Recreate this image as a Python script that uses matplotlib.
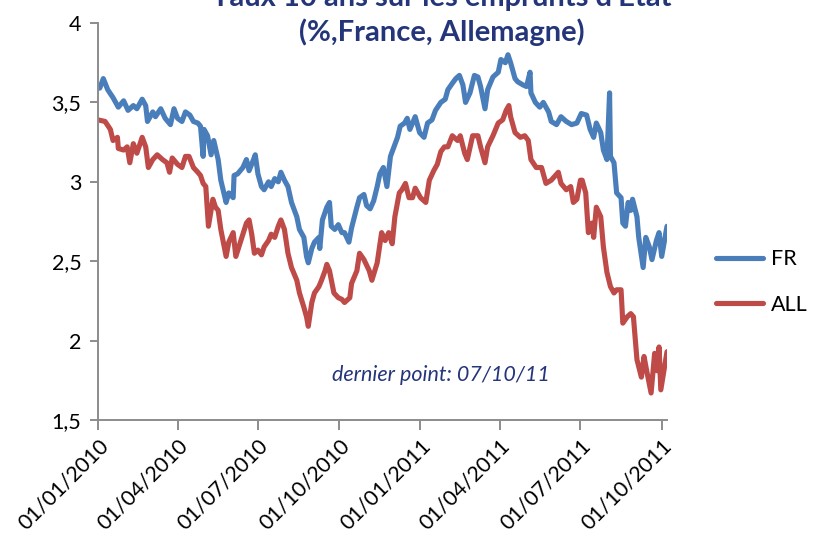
import matplotlib
matplotlib.use("Agg")
import matplotlib.pyplot as plt
import matplotlib.dates as mdates
import numpy as np

# ---------------- data ----------------
start_date = "2010-01-01"
end_date = "2011-10-07"

fr_days = [0, 2, 6, 11, 17, 23, 29, 34, 40, 44, 50, 54, 56, 62, 65, 71, 76, 82, 86, 90,
           95, 99, 104, 108, 113, 116, 119, 120, 124, 128, 131, 136, 139, 145, 148, 153, 154,
           158, 164, 168, 171, 176, 178, 181, 185, 188, 193, 196, 200, 204, 207, 211, 215,
           219, 225, 228, 233, 236, 238, 242, 245, 250, 251, 254, 259, 262, 264, 268, 272,
           276, 279, 284, 287, 293, 296, 301, 304, 308, 312, 316, 319, 323, 327, 331, 335,
           339, 342, 347, 350, 353, 359, 364, 369, 373, 378, 382, 388, 393, 396, 401, 405,
           409, 413, 416, 421, 426, 430, 433, 438, 441, 447, 453, 456, 461, 464, 467, 472,
           475, 481, 485, 489, 490, 495, 500, 504, 510, 513, 519, 524, 530, 536, 542, 547,
           553, 557, 561, 564, 569, 572, 576, 579, 580, 584, 587, 592, 594, 597, 600, 603,
           605, 610, 612, 617, 620, 624, 627, 632, 635, 638, 644]
fr_values = [3.59, 3.59, 3.65, 3.58, 3.53, 3.47, 3.51, 3.45, 3.48, 3.46, 3.52, 3.48, 3.38,
             3.44, 3.41, 3.46, 3.40, 3.36, 3.46, 3.40, 3.38, 3.44, 3.42, 3.38, 3.37, 3.35,
             3.16, 3.33, 3.29, 3.17, 3.26, 3.14, 3.01, 2.87, 2.93, 2.90, 3.04, 3.05, 3.09,
             3.14, 3.07, 3.14, 3.17, 3.05, 2.97, 2.95, 3.00, 2.97, 3.02, 3.00, 3.06, 3.01,
             2.97, 2.87, 2.78, 2.70, 2.65, 2.53, 2.49, 2.58, 2.62, 2.65, 2.58, 2.76, 2.84,
             2.87, 2.72, 2.70, 2.73, 2.68, 2.68, 2.62, 2.71, 2.84, 2.90, 2.92, 2.85, 2.83,
             2.88, 2.97, 3.05, 3.09, 2.97, 3.16, 3.22, 3.28, 3.35, 3.37, 3.40, 3.33, 3.41,
             3.31, 3.28, 3.37, 3.39, 3.45, 3.50, 3.52, 3.58, 3.62, 3.65, 3.67, 3.61, 3.50,
             3.56, 3.67, 3.66, 3.60, 3.46, 3.58, 3.66, 3.69, 3.77, 3.75, 3.80, 3.75, 3.65,
             3.63, 3.61, 3.60, 3.69, 3.56, 3.50, 3.47, 3.50, 3.44, 3.38, 3.36, 3.41, 3.38,
             3.36, 3.37, 3.43, 3.42, 3.33, 3.28, 3.37, 3.31, 3.20, 3.14, 3.56, 3.16, 3.12,
             2.93, 2.90, 2.74, 2.72, 2.87, 2.82, 2.89, 2.78, 2.65, 2.46, 2.65, 2.59, 2.51,
             2.63, 2.68, 2.53, 2.72]

all_days = [0, 8, 14, 17, 22, 23, 29, 33, 36, 40, 44, 50, 54, 57, 62, 67, 73, 78, 81, 84,
            90, 95, 99, 103, 108, 113, 116, 119, 122, 125, 130, 133, 136, 139, 145, 148, 153,
            156, 160, 164, 168, 171, 174, 177, 181, 185, 188, 193, 196, 200, 204, 207, 211,
            215, 219, 225, 228, 233, 236, 238, 242, 245, 250, 253, 257, 259, 262, 267, 272,
            276, 279, 285, 287, 293, 296, 301, 307, 310, 316, 321, 325, 329, 333, 336, 341,
            344, 348, 352, 356, 359, 365, 371, 375, 380, 384, 388, 392, 396, 401, 407, 410,
            415, 418, 424, 430, 433, 438, 441, 447, 453, 458, 462, 465, 467, 472, 478, 483,
            487, 490, 496, 502, 507, 513, 521, 524, 530, 535, 538, 542, 546, 548, 552, 555,
            559, 561, 564, 569, 572, 576, 580, 584, 587, 592, 594, 599, 603, 606, 610, 615,
            618, 621, 626, 630, 633, 635, 637, 644]
all_values = [3.39, 3.38, 3.33, 3.26, 3.28, 3.21, 3.20, 3.22, 3.12, 3.24, 3.18, 3.28, 3.22,
              3.09, 3.14, 3.17, 3.14, 3.12, 3.06, 3.15, 3.11, 3.09, 3.16, 3.16, 3.09, 3.06,
              3.04, 2.99, 2.97, 2.72, 2.89, 2.84, 2.82, 2.70, 2.53, 2.62, 2.68, 2.53, 2.60,
              2.67, 2.74, 2.76, 2.67, 2.55, 2.57, 2.54, 2.59, 2.63, 2.67, 2.65, 2.72, 2.76,
              2.70, 2.55, 2.46, 2.38, 2.30, 2.21, 2.15, 2.09, 2.24, 2.30, 2.34, 2.38, 2.44,
              2.48, 2.44, 2.30, 2.27, 2.26, 2.24, 2.27, 2.36, 2.44, 2.55, 2.51, 2.44, 2.38,
              2.49, 2.68, 2.63, 2.68, 2.61, 2.78, 2.93, 2.95, 2.99, 2.90, 2.90, 2.96, 2.90,
              2.87, 3.01, 3.07, 3.11, 3.19, 3.22, 3.22, 3.29, 3.26, 3.29, 3.18, 3.14, 3.29,
              3.29, 3.22, 3.12, 3.22, 3.29, 3.37, 3.39, 3.45, 3.48, 3.41, 3.31, 3.28, 3.29,
              3.26, 3.14, 3.09, 3.09, 2.99, 3.01, 3.06, 2.99, 2.95, 2.97, 2.87, 2.89, 3.01,
              3.01, 2.93, 2.68, 2.74, 2.65, 2.84, 2.78, 2.59, 2.43, 2.34, 2.30, 2.32, 2.32,
              2.11, 2.15, 2.17, 2.15, 1.88, 1.77, 1.90, 1.81, 1.67, 1.92, 1.81, 1.96, 1.69,
              1.93]

series_labels = ["FR", "ALL"]
x_tick_dates = ["2010-01-01", "2010-04-01", "2010-07-01", "2010-10-01",
                "2011-01-01", "2011-04-01", "2011-07-01", "2011-10-01"]
x_tick_labels = ["01/01/2010", "01/04/2010", "01/07/2010", "01/10/2010",
                 "01/01/2011", "01/04/2011", "01/07/2011", "01/10/2011"]
y_ticks = [1.5, 2, 2.5, 3, 3.5, 4]
y_tick_labels = ["1,5", "2", "2,5", "3", "3,5", "4"]
title_line1 = "Taux 10 ans sur les emprunts d'Etat"
title_line2 = "(%,France, Allemagne)"
note_text = "dernier point: 07/10/11"

# ---------------- plot ----------------
plt.rcParams['font.family'] = ['Lato', 'DejaVu Sans']

W, H = 817, 556
fig = plt.figure(figsize=(W / 100, H / 100), dpi=100)
ax = fig.add_axes([98 / W, 1 - 420 / H, 569 / W, 397 / H])

start = np.datetime64(start_date)
fr_dates = start + np.array(fr_days).astype('timedelta64[D]')
all_dates = start + np.array(all_days).astype('timedelta64[D]')

blue = "#4A7EBB"
red = "#BE4B48"
navy = "#24357A"
axis_col = "#8C8C8C"

ax.plot(fr_dates, fr_values, color=blue, lw=3.7, solid_capstyle='round',
        solid_joinstyle='round', label=series_labels[0])
ax.plot(all_dates, all_values, color=red, lw=3.7, solid_capstyle='round',
        solid_joinstyle='round', label=series_labels[1])

ax.set_xlim(np.datetime64(start_date), np.datetime64(end_date))
ax.set_ylim(1.5, 4)
ax.set_yticks(y_ticks)
ax.set_yticklabels(y_tick_labels)
ax.set_xticks([np.datetime64(d) for d in x_tick_dates])
ax.set_xticklabels(x_tick_labels, rotation=45, ha='right', va='top',
                   rotation_mode='anchor')

for s in ['top', 'right']:
    ax.spines[s].set_visible(False)
for s in ['left', 'bottom']:
    ax.spines[s].set_color(axis_col)
    ax.spines[s].set_linewidth(1.4)
ax.tick_params(axis='y', direction='out', length=6, width=1.4, color=axis_col,
               labelsize=15.5, pad=6, labelcolor='black')
ax.tick_params(axis='x', direction='out', length=7, width=1.4, color=axis_col,
               labelsize=15.5, pad=4, labelcolor='black')

fig.text(442 / W, 1 - 6 / H, title_line1, ha='center', va='baseline',
         fontsize=21, fontweight='bold', color=navy)
fig.text(442 / W, 1 - 41 / H, title_line2, ha='center', va='baseline',
         fontsize=21, fontweight='bold', color=navy)

fig.text(332 / W, 1 - 381 / H, note_text, ha='left', va='baseline',
         fontsize=15.5, style='italic', color=navy)

fig.legend(loc='center left', bbox_to_anchor=(716 / W, 1 - 282 / H), frameon=False,
           fontsize=15.5, handlelength=2.2, handletextpad=0.35, labelspacing=1.2,
           borderaxespad=0, borderpad=0)

fig.savefig("out.png", dpi=100)
